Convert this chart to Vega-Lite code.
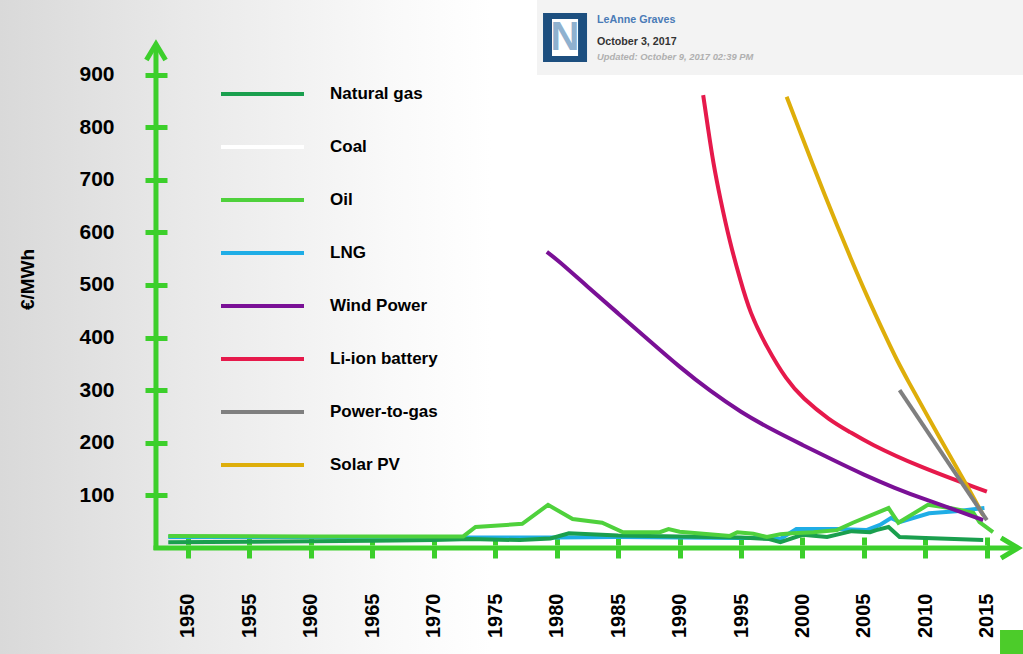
{
  "$schema": "https://vega.github.io/schema/vega-lite/v6.json",
  "width": 1023,
  "height": 654,
  "autosize": {"type": "none"},
  "padding": 0,
  "background": "#ffffff",
  "view": {
    "stroke": null,
    "fill": {
      "gradient": "linear", "x1": 0, "y1": 0, "x2": 1, "y2": 0,
      "stops": [
        {"offset": 0, "color": "#d9d9d9"},
        {"offset": 0.18, "color": "#e9e9e9"},
        {"offset": 0.38, "color": "#f9f9f9"},
        {"offset": 0.48, "color": "#ffffff"},
        {"offset": 1, "color": "#ffffff"}
      ]
    }
  },
  "config": {
    "font": "Liberation Sans",
    "legend": {
      "orient": "none",
      "legendX": 219,
      "legendY": 67.5,
      "symbolType": "stroke",
      "symbolSize": 6889,
      "symbolStrokeWidth": 4,
      "symbolOpacity": 1,
      "labelFontSize": 17,
      "labelFontWeight": "bold",
      "labelColor": "#000000",
      "labelFont": "Liberation Sans",
      "labelOffset": 24,
      "clipHeight": 53,
      "rowPadding": 0,
      "padding": 0
    }
  },
  "datasets": {
    "costs": [
      {"series": "LNG", "year": 1948.4, "value": 21},
      {"series": "LNG", "year": 1960, "value": 21},
      {"series": "LNG", "year": 1970, "value": 20},
      {"series": "LNG", "year": 1980, "value": 20},
      {"series": "LNG", "year": 1985, "value": 21},
      {"series": "LNG", "year": 1990, "value": 20},
      {"series": "LNG", "year": 1995, "value": 19},
      {"series": "LNG", "year": 1997.3, "value": 19},
      {"series": "LNG", "year": 1998.2, "value": 17},
      {"series": "LNG", "year": 1999.5, "value": 36},
      {"series": "LNG", "year": 2002.8, "value": 36},
      {"series": "LNG", "year": 2005.2, "value": 34},
      {"series": "LNG", "year": 2006.3, "value": 44},
      {"series": "LNG", "year": 2007.2, "value": 57},
      {"series": "LNG", "year": 2007.9, "value": 49},
      {"series": "LNG", "year": 2010.3, "value": 66},
      {"series": "LNG", "year": 2012.5, "value": 70},
      {"series": "LNG", "year": 2014.8, "value": 76},
      {"series": "Natural gas", "year": 1948.4, "value": 11},
      {"series": "Natural gas", "year": 1955, "value": 12},
      {"series": "Natural gas", "year": 1960, "value": 13},
      {"series": "Natural gas", "year": 1965, "value": 14},
      {"series": "Natural gas", "year": 1970, "value": 15},
      {"series": "Natural gas", "year": 1973, "value": 17},
      {"series": "Natural gas", "year": 1977, "value": 15},
      {"series": "Natural gas", "year": 1979.5, "value": 18},
      {"series": "Natural gas", "year": 1981, "value": 28},
      {"series": "Natural gas", "year": 1985, "value": 24},
      {"series": "Natural gas", "year": 1990, "value": 22},
      {"series": "Natural gas", "year": 1995, "value": 20},
      {"series": "Natural gas", "year": 1997.3, "value": 17},
      {"series": "Natural gas", "year": 1998.2, "value": 11},
      {"series": "Natural gas", "year": 2000, "value": 25},
      {"series": "Natural gas", "year": 2002, "value": 21},
      {"series": "Natural gas", "year": 2004, "value": 32},
      {"series": "Natural gas", "year": 2005.5, "value": 30},
      {"series": "Natural gas", "year": 2006, "value": 34},
      {"series": "Natural gas", "year": 2007, "value": 40},
      {"series": "Natural gas", "year": 2007.9, "value": 21},
      {"series": "Natural gas", "year": 2010, "value": 19},
      {"series": "Natural gas", "year": 2014.7, "value": 15},
      {"series": "Oil", "year": 1948.4, "value": 23},
      {"series": "Oil", "year": 1960, "value": 22},
      {"series": "Oil", "year": 1972.4, "value": 22},
      {"series": "Oil", "year": 1973.4, "value": 40},
      {"series": "Oil", "year": 1977.2, "value": 46},
      {"series": "Oil", "year": 1979.3, "value": 82},
      {"series": "Oil", "year": 1981.3, "value": 55},
      {"series": "Oil", "year": 1983.7, "value": 48},
      {"series": "Oil", "year": 1985.4, "value": 30},
      {"series": "Oil", "year": 1988.4, "value": 30},
      {"series": "Oil", "year": 1989.1, "value": 36},
      {"series": "Oil", "year": 1990, "value": 31},
      {"series": "Oil", "year": 1994.1, "value": 23},
      {"series": "Oil", "year": 1994.7, "value": 30},
      {"series": "Oil", "year": 1996, "value": 27},
      {"series": "Oil", "year": 1997.1, "value": 21},
      {"series": "Oil", "year": 1998.2, "value": 26},
      {"series": "Oil", "year": 1999.2, "value": 28},
      {"series": "Oil", "year": 2000.9, "value": 30},
      {"series": "Oil", "year": 2002.8, "value": 34},
      {"series": "Oil", "year": 2004.1, "value": 48},
      {"series": "Oil", "year": 2007, "value": 76},
      {"series": "Oil", "year": 2007.8, "value": 48},
      {"series": "Oil", "year": 2010.2, "value": 82},
      {"series": "Oil", "year": 2012, "value": 76},
      {"series": "Oil", "year": 2013.9, "value": 67},
      {"series": "Oil", "year": 2014.4, "value": 49},
      {"series": "Oil", "year": 2015.5, "value": 30},
      {"series": "Coal", "year": 1948.4, "value": 1},
      {"series": "Coal", "year": 2015, "value": 1},
      {"series": "Wind Power", "year": 1979.2, "value": 563},
      {"series": "Wind Power", "year": 1980, "value": 549},
      {"series": "Wind Power", "year": 1982.5, "value": 497},
      {"series": "Wind Power", "year": 1985, "value": 446},
      {"series": "Wind Power", "year": 1987.5, "value": 395},
      {"series": "Wind Power", "year": 1990, "value": 344},
      {"series": "Wind Power", "year": 1992.5, "value": 298},
      {"series": "Wind Power", "year": 1995, "value": 258},
      {"series": "Wind Power", "year": 1997.5, "value": 225},
      {"series": "Wind Power", "year": 2000, "value": 196},
      {"series": "Wind Power", "year": 2002.5, "value": 167},
      {"series": "Wind Power", "year": 2005, "value": 139},
      {"series": "Wind Power", "year": 2007.5, "value": 114},
      {"series": "Wind Power", "year": 2010, "value": 92},
      {"series": "Wind Power", "year": 2012.5, "value": 72},
      {"series": "Wind Power", "year": 2014.7, "value": 53},
      {"series": "Li-ion battery", "year": 1991.92, "value": 861},
      {"series": "Li-ion battery", "year": 1992.33, "value": 795},
      {"series": "Li-ion battery", "year": 1992.74, "value": 732},
      {"series": "Li-ion battery", "year": 1993.28, "value": 667},
      {"series": "Li-ion battery", "year": 1994.1, "value": 580},
      {"series": "Li-ion battery", "year": 1994.91, "value": 512},
      {"series": "Li-ion battery", "year": 1995.72, "value": 447},
      {"series": "Li-ion battery", "year": 1997.08, "value": 382},
      {"series": "Li-ion battery", "year": 1998.71, "value": 319},
      {"series": "Li-ion battery", "year": 2000, "value": 285},
      {"series": "Li-ion battery", "year": 2002.2, "value": 243},
      {"series": "Li-ion battery", "year": 2003.9, "value": 220},
      {"series": "Li-ion battery", "year": 2005.4, "value": 199},
      {"series": "Li-ion battery", "year": 2009.3, "value": 156},
      {"series": "Li-ion battery", "year": 2015, "value": 107},
      {"series": "Solar PV", "year": 1998.71, "value": 858},
      {"series": "Solar PV", "year": 1999.79, "value": 792},
      {"series": "Solar PV", "year": 2000.87, "value": 727},
      {"series": "Solar PV", "year": 2001.8, "value": 672},
      {"series": "Solar PV", "year": 2002.78, "value": 615},
      {"series": "Solar PV", "year": 2003.99, "value": 547},
      {"series": "Solar PV", "year": 2005.22, "value": 480},
      {"series": "Solar PV", "year": 2006.84, "value": 398},
      {"series": "Solar PV", "year": 2007.66, "value": 358},
      {"series": "Solar PV", "year": 2008.6, "value": 317},
      {"series": "Solar PV", "year": 2010, "value": 258},
      {"series": "Solar PV", "year": 2012, "value": 175},
      {"series": "Solar PV", "year": 2013.6, "value": 110},
      {"series": "Solar PV", "year": 2014.7, "value": 62},
      {"series": "Power-to-gas", "year": 2007.9, "value": 300},
      {"series": "Power-to-gas", "year": 2015, "value": 53}
    ]
  },
  "layer": [
    {
      "data": {"values": [{}]},
      "mark": {"type": "rect", "fill": "#f3f3f3"},
      "encoding": {
        "x": {"datum": 1978.4, "type": "quantitative", "scale": {"domain": [1934.71, 2017.94], "nice": false, "zero": false}},
        "x2": {"datum": 2020},
        "y": {"datum": 899.2, "type": "quantitative", "scale": {"domain": [-201.5, 1041.8], "nice": false, "zero": false}},
        "y2": {"datum": 1050}
      }
    },
    {
      "data": {"name": "costs"},
      "transform": [{"filter": {"field": "series", "oneOf": ["LNG", "Natural gas", "Oil", "Coal"]}}],
      "mark": {"type": "line", "strokeWidth": 4},
      "encoding": {
        "x": {
          "field": "year", "type": "quantitative",
          "scale": {"domain": [1934.71, 2017.94], "nice": false, "zero": false},
          "axis": {
            "values": [1950, 1955, 1960, 1965, 1970, 1975, 1980, 1985, 1990, 1995, 2000, 2005, 2010, 2015],
            "format": "d", "offset": -117, "tickSize": 21, "tickWidth": 5, "tickColor": "#3ccf2b",
            "domain": false, "grid": false, "labelAngle": -90, "labelFontSize": 20, "labelFontWeight": "bold",
            "labelColor": "#000000", "labelFont": "Liberation Sans", "labelPadding": 35, "title": null,
            "labelOverlap": false, "labelFlush": false, "labelBound": false
          }
        },
        "y": {
          "field": "value", "type": "quantitative",
          "scale": {"domain": [-201.5, 1041.8], "nice": false, "zero": false},
          "axis": {
            "values": [100, 200, 300, 400, 500, 600, 700, 800, 900],
            "format": "d", "offset": -167, "tickSize": 22, "tickWidth": 5, "tickColor": "#3ccf2b",
            "domain": false, "grid": false, "labelFontSize": 21, "labelFontWeight": "bold",
            "labelColor": "#000000", "labelFont": "Liberation Sans", "labelPadding": 31,
            "labelOverlap": false, "labelFlush": false, "labelBound": false,
            "title": "€/MWh", "titleX": -139.5, "titleY": 279, "titleAngle": -90, "titleAlign": "center",
            "titleBaseline": "middle", "titleFontSize": 19, "titleFontWeight": "bold", "titleColor": "#000000",
            "titleFont": "Liberation Sans"
          }
        },
        "color": {
          "field": "series", "type": "nominal",
          "scale": {
            "domain": ["Natural gas", "Coal", "Oil", "LNG", "Wind Power", "Li-ion battery", "Power-to-gas", "Solar PV"],
            "range": ["#1a9f4e", "#ffffff", "#4fd13c", "#1fade6", "#7a1096", "#e6194b", "#7f7f7f", "#deae0a"]
          },
          "legend": {"title": null}
        }
      }
    },
    {
      "data": {"name": "costs"},
      "transform": [{"filter": {"field": "series", "oneOf": ["Wind Power", "Li-ion battery", "Solar PV"]}}],
      "mark": {"type": "line", "strokeWidth": 4, "interpolate": "basis"},
      "encoding": {
        "x": {"field": "year", "type": "quantitative", "scale": {"domain": [1934.71, 2017.94], "nice": false, "zero": false}},
        "y": {"field": "value", "type": "quantitative", "scale": {"domain": [-201.5, 1041.8], "nice": false, "zero": false}},
        "color": {"field": "series", "type": "nominal", "legend": {"title": null}}
      }
    },
    {
      "data": {"name": "costs"},
      "transform": [{"filter": {"field": "series", "equal": "Power-to-gas"}}],
      "mark": {"type": "line", "strokeWidth": 4},
      "encoding": {
        "x": {"field": "year", "type": "quantitative", "scale": {"domain": [1934.71, 2017.94], "nice": false, "zero": false}},
        "y": {"field": "value", "type": "quantitative", "scale": {"domain": [-201.5, 1041.8], "nice": false, "zero": false}},
        "color": {"field": "series", "type": "nominal", "legend": {"title": null}}
      }
    },
    {
      "data": {"values": [{}]},
      "mark": {"type": "rule", "stroke": "#3ccf2b", "strokeWidth": 5},
      "encoding": {
        "x": {"datum": 1947.4, "type": "quantitative"},
        "y": {"datum": -4, "type": "quantitative"},
        "y2": {"datum": 955}
      }
    },
    {
      "data": {"values": [{}]},
      "mark": {"type": "rule", "stroke": "#3ccf2b", "strokeWidth": 5},
      "encoding": {
        "x": {"datum": 1947.2, "type": "quantitative"},
        "x2": {"datum": 2017.3},
        "y": {"datum": 0, "type": "quantitative"}
      }
    },
    {
      "data": {"values": [{}]},
      "mark": {"type": "point", "shape": "M -0.6 1 L 0 0 L 0.6 1", "size": 1024, "filled": false, "stroke": "#3ccf2b", "strokeWidth": 5, "opacity": 1},
      "encoding": {
        "x": {"datum": 1947.4, "type": "quantitative"},
        "y": {"datum": 958, "type": "quantitative"}
      }
    },
    {
      "data": {"values": [{}]},
      "mark": {"type": "point", "shape": "M -1 -0.6 L 0 0 L -1 0.6", "size": 1156, "filled": false, "stroke": "#3ccf2b", "strokeWidth": 5, "opacity": 1},
      "encoding": {
        "x": {"datum": 2017.54, "type": "quantitative"},
        "y": {"datum": 0, "type": "quantitative"}
      }
    },
    {
      "data": {"values": [{}]},
      "mark": {"type": "rect", "fill": "#1d4f7f"},
      "encoding": {
        "x": {"datum": 1978.89, "type": "quantitative"},
        "x2": {"datum": 1982.47},
        "y": {"datum": 1017.1, "type": "quantitative"},
        "y2": {"datum": 923.9}
      }
    },
    {
      "data": {"values": [{}]},
      "mark": {"type": "rect", "fill": "#ffffff"},
      "encoding": {
        "x": {"datum": 1979.62, "type": "quantitative"},
        "x2": {"datum": 1981.74},
        "y": {"datum": 1005.7, "type": "quantitative"},
        "y2": {"datum": 935.3}
      }
    },
    {
      "data": {"values": [{}]},
      "mark": {"type": "text", "text": "N", "font": "Liberation Sans", "fontWeight": "bold", "fontSize": 40, "fill": "#8fb1cf", "align": "center", "baseline": "middle"},
      "encoding": {
        "x": {"datum": 1980.68, "type": "quantitative"},
        "y": {"datum": 970.5, "type": "quantitative"}
      }
    },
    {
      "data": {"values": [{}]},
      "mark": {"type": "text", "text": "LeAnne Graves", "font": "Liberation Sans", "fontWeight": "bold", "fontSize": 10.7, "fill": "#4a7bb7", "align": "left", "baseline": "middle"},
      "encoding": {
        "x": {"datum": 1983.28, "type": "quantitative"},
        "y": {"datum": 1003.8, "type": "quantitative"}
      }
    },
    {
      "data": {"values": [{}]},
      "mark": {"type": "text", "text": "October 3, 2017", "font": "Liberation Sans", "fontWeight": "bold", "fontSize": 10.7, "fill": "#333333", "align": "left", "baseline": "middle"},
      "encoding": {
        "x": {"datum": 1983.28, "type": "quantitative"},
        "y": {"datum": 961.9, "type": "quantitative"}
      }
    },
    {
      "data": {"values": [{}]},
      "mark": {"type": "text", "text": "Updated: October 9, 2017 02:39 PM", "font": "Liberation Sans", "fontWeight": "bold", "fontStyle": "italic", "fontSize": 9.4, "fill": "#b0b0b0", "align": "left", "baseline": "middle"},
      "encoding": {
        "x": {"datum": 1983.28, "type": "quantitative"},
        "y": {"datum": 933.4, "type": "quantitative"}
      }
    },
    {
      "data": {"values": [{}]},
      "mark": {"type": "rect", "fill": "#4ccc2a"},
      "encoding": {
        "x": {"datum": 2016.07, "type": "quantitative"},
        "x2": {"datum": 2020},
        "y": {"datum": -155.9, "type": "quantitative"},
        "y2": {"datum": -210}
      }
    }
  ]
}
